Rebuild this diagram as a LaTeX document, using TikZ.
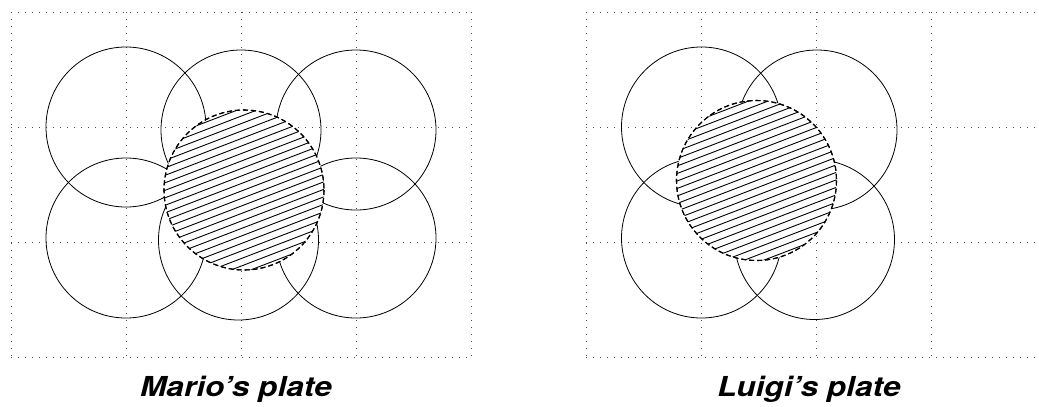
\documentclass[tikz,border=0pt]{standalone}
\usepackage{fontspec}
\setmainfont{TeX Gyre Heros}
\usetikzlibrary{calc}
\begin{document}
\begin{tikzpicture}[x=1pt,y=-1pt,
  gridline/.style={draw=black!70,line width=0.8pt,dash pattern=on 0.8pt off 6.2pt},
  plate/.style={draw=black,line width=0.8pt},
  pizza/.style={draw=black,line width=1.1pt,dash pattern=on 5pt off 3pt,fill=white},
  hatch/.style={draw=black,line width=0.9pt},
  caption/.style={font=\fontsize{27.5}{32}\selectfont\bfseries\itshape,xscale=1.15,anchor=base,inner sep=0pt}]
\useasboundingbox (0,0) rectangle (1039,407);
\begin{scope}
\clip (0,0) rectangle (1039,407);
% grids
\foreach \ox in {11,586}{
  \foreach \i in {0,...,4} \draw[gridline] (\ox+\i*115,12) -- (\ox+\i*115,357);
  \foreach \j in {0,...,3} \draw[gridline] (\ox,12+\j*115) -- (\ox+460,12+\j*115);
}
\end{scope}
% Mario's plate
\foreach \cx/\cy in {126/127,241/130,356/130,126/238,238.5/240,356/238}
  \draw[plate] (\cx,\cy) circle (80);
\coordinate (mh) at (244,190);
\draw[pizza] (mh) circle (80);
\begin{scope}
\clip (mh) circle (80);
\foreach \k in {-14,...,14}
  \draw[hatch,rotate around={21:(mh)}] ($(mh)+(-110,\k*7)$) -- ($(mh)+(110,\k*7)$);
\end{scope}
\draw[pizza,fill=none] (mh) circle (80);
% Luigi's plate
\foreach \cx/\cy in {701.5/127,817/130,701.5/238,814.5/239.5}
  \draw[plate] (\cx,\cy) circle (80);
\coordinate (lh) at (756.5,180.5);
\draw[pizza] (lh) circle (80);
\begin{scope}
\clip (lh) circle (80);
\foreach \k in {-14,...,14}
  \draw[hatch,rotate around={21:(lh)}] ($(lh)+(-110,\k*7)$) -- ($(lh)+(110,\k*7)$);
\end{scope}
\draw[pizza,fill=none] (lh) circle (80);
% captions
\node[caption] (mario) at (236,396) {Mario’s plate};
\node[caption] (luigi) at (809,396) {Luigi’s plate};
\end{tikzpicture}
\end{document}
